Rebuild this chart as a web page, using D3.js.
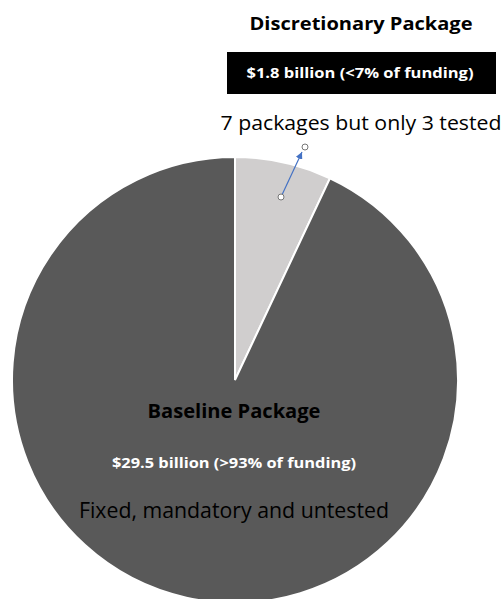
<!DOCTYPE html>
<html>
<head>
<meta charset="utf-8">
<script src="https://cdn.jsdelivr.net/npm/d3@7"></script>
<style>
  body { margin: 0; background: #fff; }
  svg { display: block; }
  text { font-family: "Open Sans", "Noto Sans", sans-serif; }
</style>
</head>
<body>
<div id="chart"></div>
<script>
// funding share (percent) per package
var packages = ["Discretionary Package", "Baseline Package"];
var shares = [7, 93];
var amounts = ["$1.8 billion (<7% of funding)", "$29.5 billion (>93% of funding)"];
var notes = ["7 packages but only 3 tested", "Fixed, mandatory and untested"];
var colors = ["#d0cece", "#595959"];

var width = 504, height = 599;
var cx = 235, cy = 380, radius = 223;

var svg = d3.select("#chart").append("svg")
    .attr("width", width)
    .attr("height", height);

var pie = d3.pie().sort(null).value(function(d) { return d; });
var arc = d3.arc().innerRadius(0).outerRadius(radius);

var g = svg.append("g").attr("transform", "translate(" + cx + "," + cy + ")");
g.selectAll("path")
    .data(pie(shares))
    .enter().append("path")
    .attr("d", arc)
    .attr("fill", function(d, i) { return colors[i]; })
    .attr("stroke", "#fff")
    .attr("stroke-width", 2);

// discretionary labels (top right)
svg.append("text")
    .attr("x", 361).attr("y", 30)
    .attr("text-anchor", "middle")
    .attr("font-size", 18).attr("font-weight", "bold")
    .attr("textLength", 223).attr("lengthAdjust", "spacingAndGlyphs")
    .text(packages[0]);

svg.append("rect")
    .attr("x", 227).attr("y", 52).attr("width", 269).attr("height", 42)
    .attr("fill", "#000");

svg.append("text")
    .attr("x", 360).attr("y", 78)
    .attr("text-anchor", "middle").attr("fill", "#fff")
    .attr("font-size", 14.5).attr("font-weight", "bold")
    .attr("textLength", 227).attr("lengthAdjust", "spacingAndGlyphs")
    .text(amounts[0]);

svg.append("text")
    .attr("x", 361).attr("y", 130)
    .attr("text-anchor", "middle")
    .attr("font-size", 20)
    .attr("textLength", 281).attr("lengthAdjust", "spacingAndGlyphs")
    .text(notes[0]);

// connector arrow from the small slice
svg.append("defs").append("marker")
    .attr("id", "arrow")
    .attr("viewBox", "0 0 10 10")
    .attr("refX", 10).attr("refY", 5)
    .attr("markerWidth", 7).attr("markerHeight", 7)
    .attr("markerUnits", "userSpaceOnUse")
    .attr("orient", "auto")
    .append("path").attr("d", "M0,0L10,5L0,10Z").attr("fill", "#4472c4");

var p0 = [281, 197], p1 = [305, 147];
svg.append("line")
    .attr("x1", p0[0]).attr("y1", p0[1])
    .attr("x2", 302).attr("y2", 152)
    .attr("stroke", "#4472c4").attr("stroke-width", 1.2)
    .attr("marker-end", "url(#arrow)");
[p0, p1].forEach(function(p) {
    svg.append("circle")
        .attr("cx", p[0]).attr("cy", p[1]).attr("r", 3)
        .attr("fill", "#fff").attr("stroke", "#777").attr("stroke-width", 1);
});

// baseline labels inside the big slice
svg.append("text")
    .attr("x", 234).attr("y", 418)
    .attr("text-anchor", "middle")
    .attr("font-size", 20).attr("font-weight", "bold")
    .attr("textLength", 173).attr("lengthAdjust", "spacingAndGlyphs")
    .text(packages[1]);

svg.append("text")
    .attr("x", 234).attr("y", 468)
    .attr("text-anchor", "middle").attr("fill", "#fff")
    .attr("font-size", 15).attr("font-weight", "bold")
    .attr("textLength", 244).attr("lengthAdjust", "spacingAndGlyphs")
    .text(amounts[1]);

svg.append("text")
    .attr("x", 234).attr("y", 518)
    .attr("text-anchor", "middle")
    .attr("font-size", 21)
    .attr("textLength", 310).attr("lengthAdjust", "spacingAndGlyphs")
    .text(notes[1]);
</script>
</body>
</html>
